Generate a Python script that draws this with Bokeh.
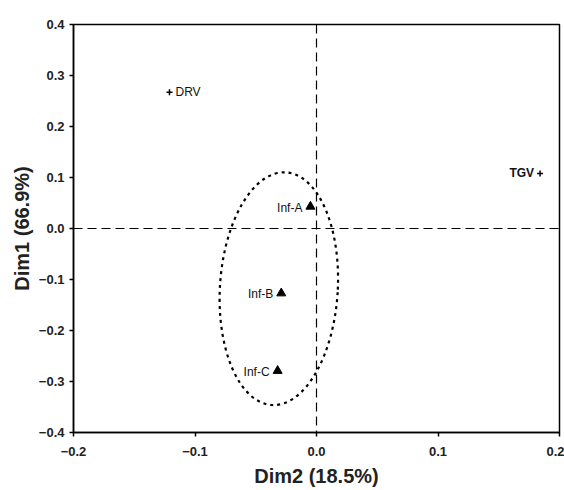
from bokeh.plotting import figure
from bokeh.models import FixedTicker, CustomJSTickFormatter, Span, Range1d, Title
from bokeh.core.properties import value
from bokeh.embed import file_html
from bokeh.resources import INLINE

# Data
var_names = ["DRV", "TGV"]
var_x = [-0.121, 0.184]
var_y = [0.267, 0.108]

inf_names = ["Inf-A", "Inf-B", "Inf-C"]
inf_x = [-0.005, -0.029, -0.032]
inf_y = [0.043, -0.127, -0.279]

# confidence ellipse parameters (center x, center y, width, height, angle)
ell_cx = [-0.031]
ell_cy = [-0.118]
ell_w = [0.097]
ell_h = [0.457]
ell_angle = [-0.06]

x_ticks = [-0.2, -0.1, 0.0, 0.1, 0.2]
y_ticks = [-0.4, -0.3, -0.2, -0.1, 0.0, 0.1, 0.2, 0.3, 0.4]

FONT = "Liberation Sans"

p = figure(width=564, height=490, output_backend="svg", toolbar_location=None,
           x_range=Range1d(-0.2, 0.2), y_range=Range1d(-0.4, 0.4))
p.min_border_left = 73
p.min_border_right = 5
p.min_border_top = 24
p.min_border_bottom = 58
p.grid.visible = False
p.outline_line_color = "black"
p.outline_line_width = 1.5
p.background_fill_color = "white"
p.border_fill_color = "white"

fmt = CustomJSTickFormatter(code="""
if (Math.abs(tick) < 1e-9) return '0.0';
return (tick < 0 ? '\\u2212' : '') + Math.abs(tick).toFixed(1);
""")

for ax in (p.xaxis[0], p.yaxis[0]):
    ax.formatter = fmt
    ax.axis_line_width = 1.5
    ax.axis_line_color = "black"
    ax.major_tick_line_color = "black"
    ax.major_tick_line_width = 1.5
    ax.major_tick_out = 4
    ax.major_tick_in = 0
    ax.minor_tick_line_color = None
    ax.major_label_text_font = FONT
    ax.major_label_text_font_style = "bold"
    ax.major_label_text_font_size = "13px"
    ax.major_label_text_color = "#222222"
    ax.axis_label_text_font = FONT
    ax.axis_label_text_font_style = "bold"
    ax.axis_label_text_font_size = "20px"
    ax.axis_label_text_color = "#222222"

p.xaxis[0].ticker = FixedTicker(ticks=x_ticks)
p.yaxis[0].ticker = FixedTicker(ticks=y_ticks)
p.xaxis[0].axis_label = "Dim2 (18.5%)"
p.xaxis[0].major_label_standoff = 10
p.yaxis[0].major_label_standoff = 5
p.xaxis[0].axis_label_standoff = 6

# y axis title as a side title, shifted up a little as in the reference
p.add_layout(Title(text="Dim1 (66.9%)", align="center", offset=22, standoff=6,
                   text_font=FONT, text_font_style="bold", text_font_size="20px",
                   text_color="#222222"), "left")

# reference lines
p.add_layout(Span(location=0, dimension="height", line_color="black",
                  line_width=1.2, line_dash="9 5"))
p.add_layout(Span(location=0, dimension="width", line_color="black",
                  line_width=1.2, line_dash="9 5"))

# ellipse
p.ellipse(x=ell_cx, y=ell_cy, width=ell_w, height=ell_h, angle=ell_angle,
          fill_color=None, line_color="black", line_width=2.2, line_dash="3 4")

# variable points
p.scatter(var_x, var_y, marker="cross", size=6, line_color="black", line_width=1.5)
p.text([var_x[0]], [var_y[0]], text=[var_names[0]], x_offset=6,
       text_font=value(FONT), text_font_size="12px", text_baseline="middle",
       text_align="left", text_color="#111111")
p.text([var_x[1]], [var_y[1]], text=[var_names[1]], x_offset=-6,
       text_font=value(FONT), text_font_size="12px", text_baseline="middle",
       text_align="right", text_color="#111111", text_font_style="bold")

# inf points
p.scatter(inf_x, inf_y, marker="triangle", size=9, fill_color="black", line_color="black")
p.text(inf_x, inf_y, text=inf_names, x_offset=-8, y_offset=1,
       text_font=value(FONT), text_font_size="12px", text_baseline="middle",
       text_align="right", text_color="#111111")

open("out.html", "w").write(file_html(p, INLINE))
